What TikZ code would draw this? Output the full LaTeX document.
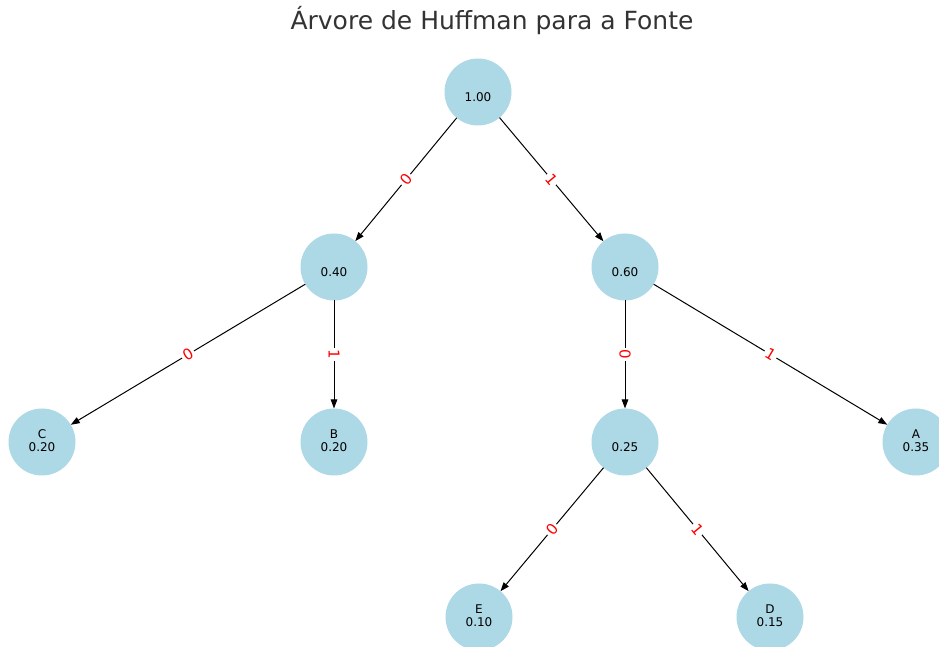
\documentclass[tikz,border=0pt]{standalone}
\usepackage{fontspec}
\setmainfont{DejaVu Sans}
\usetikzlibrary{arrows.meta}
\definecolor{nodeblue}{HTML}{ADD8E6}
\definecolor{titlegray}{HTML}{333333}
\begin{document}
\begin{tikzpicture}[x=1pt,y=1pt,
  hnode/.style={circle, fill=nodeblue, minimum size=67pt, inner sep=0pt, outer sep=0pt, align=center, font=\fontsize{12}{13}\selectfont},
  edge/.style={-{Triangle[length=9pt,width=6.5pt]}, line width=1pt},
  elabel/.style={midway, sloped, fill=white, text=red, inner sep=2pt, font=\fontsize{15}{17}\selectfont}]
\useasboundingbox (0,0) rectangle (939,647);
\node[font=\fontsize{25}{28}\selectfont, text=titlegray] (title) at (492,626) {Árvore de Huffman para a Fonte};
\node[hnode] (r)  at (478,555) {\strut\\\strut 1.00};
\node[hnode] (n40) at (334,380) {\strut\\\strut 0.40};
\node[hnode] (n60) at (625,380) {\strut\\\strut 0.60};
\node[hnode] (c)  at (42,205) {\strut C\\\strut 0.20};
\node[hnode] (b)  at (334,205) {\strut B\\\strut 0.20};
\node[hnode] (n25) at (625,205) {\strut\\\strut 0.25};
\node[hnode] (a)  at (916,205) {\strut A\\\strut 0.35};
\node[hnode] (e)  at (479,30) {\strut E\\\strut 0.10};
\node[hnode] (d)  at (770,30) {\strut D\\\strut 0.15};
\draw[edge] (r) -- (n40) node[elabel] {0};
\draw[edge] (r) -- (n60) node[elabel] {1};
\draw[edge] (n40) -- (c) node[elabel] {0};
\draw[edge] (n40) -- (b) node[elabel] {1};
\draw[edge] (n60) -- (n25) node[elabel] {0};
\draw[edge] (n60) -- (a) node[elabel] {1};
\draw[edge] (n25) -- (e) node[elabel] {0};
\draw[edge] (n25) -- (d) node[elabel] {1};
\end{tikzpicture}
\end{document}
